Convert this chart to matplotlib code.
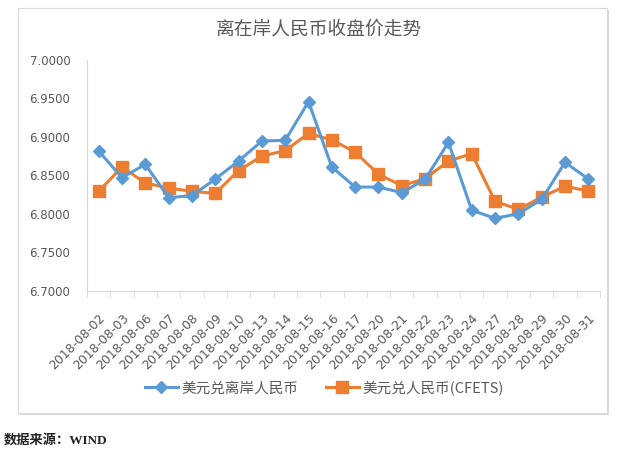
import matplotlib
matplotlib.use("Agg")
import matplotlib.pyplot as plt
from matplotlib.patches import Rectangle
import numpy as np

dates = ["2018-08-02", "2018-08-03", "2018-08-06", "2018-08-07", "2018-08-08",
         "2018-08-09", "2018-08-10", "2018-08-13", "2018-08-14", "2018-08-15",
         "2018-08-16", "2018-08-17", "2018-08-20", "2018-08-21", "2018-08-22",
         "2018-08-23", "2018-08-24", "2018-08-27", "2018-08-28", "2018-08-29",
         "2018-08-30", "2018-08-31"]
cnh = [6.8817, 6.8470, 6.8643, 6.8210, 6.8236, 6.8452, 6.8686, 6.8947, 6.8955, 6.9458,
       6.8608, 6.8348, 6.8348, 6.8275, 6.8448, 6.8929, 6.8045, 6.7941, 6.8001, 6.8188,
       6.8669, 6.8452]
cny = [6.8292, 6.8608, 6.8400, 6.8335, 6.8292, 6.8266, 6.8561, 6.8751, 6.8821, 6.9046,
       6.8960, 6.8803, 6.8514, 6.8366, 6.8457, 6.8686, 6.8782, 6.8162, 6.8058, 6.8218,
       6.8358, 6.8296]
yticks = [6.70, 6.75, 6.80, 6.85, 6.90, 6.95, 7.00]
title = "离在岸人民币收盘价走势"
names = ["美元兑离岸人民币", "美元兑人民币(CFETS)"]
source = "数据来源：WIND"

plt.rcParams['font.family'] = ['DejaVu Sans', 'Noto Sans CJK SC']
W, H = 623, 450
fig = plt.figure(figsize=(W / 100, H / 100), dpi=100)

# chart frame with shadow
fig.patches.append(Rectangle((20 / W, 1 - 415 / H), 589 / W, 405 / H, transform=fig.transFigure,
                             facecolor="#DADADA", edgecolor="none", zorder=-3))
fig.patches.append(Rectangle((18 / W, 1 - 413 / H), 589 / W, 405 / H, transform=fig.transFigure,
                             facecolor="white", edgecolor="#D9D9D9", lw=0.8, zorder=-2))

ax = fig.add_axes([87 / W, 1 - 290.7 / H, (600 - 87) / W, (290.7 - 60) / H])
ax.set_zorder(2)
ax.set_facecolor("none")
x = np.arange(len(dates))
blue = "#5B9BD5"
orange = "#ED7D31"
ax.plot(x, cnh, color=blue, lw=2.2, marker="D", ms=6.5, label=names[0], zorder=3)
ax.plot(x, cny, color=orange, lw=2.2, marker="s", ms=8.5, label=names[1], zorder=2)

ax.set_xlim(-0.5, len(dates) - 0.5)
ax.set_ylim(6.70, 7.00)
ax.set_yticks(yticks)
ax.set_yticklabels([f"{v:.4f}" for v in yticks], color="#595959", fontsize=8.5)
ax.tick_params(axis="y", length=0, pad=12)

ax.set_xticks(x)
ax.set_xticklabels(dates, rotation=45, ha="right", rotation_mode="anchor",
                   color="#595959", fontsize=9)
ax.tick_params(axis="x", which="major", length=0, pad=15)
ax.set_xticks(np.arange(-0.5, len(dates), 1), minor=True)
ax.tick_params(axis="x", which="minor", length=5, color="#D9D9D9", direction="out")

for s in ["top", "right"]:
    ax.spines[s].set_visible(False)
ax.spines["left"].set_color("#D9D9D9")
ax.spines["bottom"].set_color("#D9D9D9")

fig.text(319 / W, 1 - 29 / H, title, ha="center", va="center", fontsize=13.5,
         color="#595959", family=['Noto Sans CJK SC'])

leg = fig.legend(loc="center", bbox_to_anchor=(324 / W, 1 - 388 / H), ncol=2, frameon=False,
                 prop={'family': ['Noto Sans CJK SC'], 'size': 10.5}, handlelength=2.3,
                 columnspacing=1.9, handletextpad=0.2)
for t in leg.get_texts():
    t.set_color("#595959")

fig.text(4 / W, 1 - 440 / H, source, ha="left", va="center", fontsize=9.5, fontweight="bold",
         color="#222222", family=['Liberation Serif', 'Noto Sans CJK SC'])

fig.savefig("out.png", dpi=100)
